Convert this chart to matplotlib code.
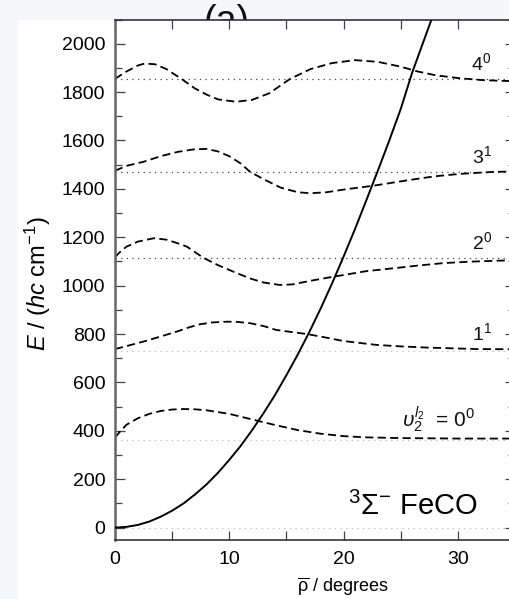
import matplotlib
matplotlib.use("Agg")
import matplotlib.pyplot as plt
from matplotlib.patches import Rectangle
from matplotlib.ticker import MultipleLocator

plt.rcParams['font.family'] = ['Liberation Sans', 'DejaVu Sans']
plt.rcParams['mathtext.fontset'] = 'custom'
plt.rcParams['mathtext.rm'] = 'Liberation Sans'
plt.rcParams['mathtext.it'] = 'Liberation Sans:italic'
plt.rcParams['mathtext.bf'] = 'Liberation Sans:bold'

# ---- data ----
rho_V = [0, 1, 2, 3, 4, 5, 6, 7, 8, 9, 10, 11, 12, 13, 14, 15, 16, 17, 18, 19, 20,
         21, 22, 23, 24, 25, 26, 27, 28]
V = [0, 3, 11, 25, 45, 70, 100, 137, 178, 226, 280, 338, 403, 473, 548, 630, 716,
     808, 906, 1010, 1120, 1234, 1354, 1475, 1600, 1730, 1880, 2010, 2140]

levels = [0, 362, 730, 1116, 1471, 1854]
level_colors = ['#bbbbbb', '#bbbbbb', '#bbbbbb', '#444444', '#444444', '#444444']

rho_0 = [0, 0.5, 1, 2, 3, 4, 5, 6, 7, 8, 10, 12, 14, 16, 18, 20, 22, 25, 30, 35]
dens_0 = [372, 400, 425, 452, 470, 482, 488, 490, 489, 485, 470, 447, 424, 403, 388,
          378, 373, 370, 368, 368]

rho_1 = [0, 1, 2.5, 4, 5.4, 6.5, 7.4, 8.5, 9.8, 10.5, 11.8, 13, 14.1, 15.5, 16.8, 18.5,
         20, 22.9, 25, 27.3, 29.5, 31.6, 35]
dens_1 = [738, 750, 769, 790, 810, 828, 840, 848, 851, 851, 845, 833, 817, 808, 800,
          785, 771, 755, 749, 744, 741, 738, 737]

rho_2 = [0, 0.5, 1, 2, 3.4, 4.5, 5.5, 6.3, 7.7, 9, 10.5, 11.8, 13, 14.4, 15.5, 17.1,
         18.5, 20, 22, 24.4, 26.5, 28.7, 31, 33.4, 35]
dens_2 = [1118, 1142, 1161, 1182, 1196, 1190, 1175, 1161, 1116, 1085, 1055, 1030,
          1013, 1003, 1005, 1020, 1032, 1044, 1060, 1072, 1083, 1093, 1099, 1103, 1105]

rho_3 = [0, 1, 2.5, 4, 5.5, 7, 8, 9, 10, 11, 11.8, 13, 14.5, 16, 17.1, 18.5, 20,
         22.6, 25.8, 28, 30.2, 33, 35]
dens_3 = [1475, 1495, 1512, 1535, 1553, 1564, 1565, 1555, 1535, 1505, 1471, 1440,
          1405, 1386, 1382, 1386, 1397, 1413, 1437, 1452, 1462, 1470, 1472]

rho_4 = [0, 1, 2, 2.6, 3.5, 4.5, 5.8, 7, 8, 9, 10.6, 12, 13.5, 15.3, 17.1, 19, 21,
         23, 25, 26.5, 28, 30, 32, 33.5, 35]
dens_4 = [1855, 1885, 1910, 1918, 1915, 1895, 1855, 1815, 1790, 1770, 1760, 1768,
          1795, 1854, 1895, 1920, 1932, 1925, 1905, 1885, 1870, 1858, 1850, 1847, 1845]

level_labels = [r'$\upsilon_2^{l_2}$  = 0$^0$', r'1$^1$', r'2$^0$', r'3$^1$', r'4$^0$']
label_x = [31.5, 33.0, 33.0, 33.0, 32.9]
label_y = [415, 775, 1151, 1507, 1891]
label_size = [15, 14, 14, 14, 14]

# ---- figure ----
W, H = 510, 599
fig = plt.figure(figsize=(W / 100, H / 100), dpi=100)
fig.patch.set_facecolor('#f6f7fa')

fig.text(227 / W, 1 - 4 / H, '(a)', ha='center', va='top', fontsize=27,
         color='#111111', zorder=-3)
fig.patches.append(Rectangle((18 / W, 0), 1, 1 - 20 / H, transform=fig.transFigure,
                             facecolor='white', edgecolor='none', zorder=-2))

ax = fig.add_axes([115 / W, 1 - 539.7 / H, 400 / W, 520.2 / H])
ax.patch.set_alpha(0)

for lv, c in zip(levels, level_colors):
    ax.axhline(lv, color=c, lw=0.9, linestyle=(0, (1, 3.5)), zorder=1)

dash = (0, (4.5, 2.4))
for r, d in [(rho_0, dens_0), (rho_1, dens_1), (rho_2, dens_2), (rho_3, dens_3),
             (rho_4, dens_4)]:
    ax.plot(r, d, color='black', lw=1.3, linestyle=dash, zorder=2)

ax.plot(rho_V, V, color='black', lw=1.4, zorder=3)

for t, x, y, fs in zip(level_labels, label_x, label_y, label_size):
    ax.text(x, y, t, ha='right', va='baseline', fontsize=fs, color='#111111')

ax.text(31.7, 52, r'$^3\Sigma^{-}$ FeCO', ha='right', va='baseline', fontsize=21,
        color='black')

ax.set_xlim(0, 35)
ax.set_ylim(-50, 2100)
ax.xaxis.set_major_locator(MultipleLocator(10))
ax.xaxis.set_minor_locator(MultipleLocator(5))
ax.yaxis.set_major_locator(MultipleLocator(200))
ax.yaxis.set_minor_locator(MultipleLocator(100))
ax.tick_params(which='both', direction='in', top=True, right=True, width=0.9,
               colors='#444444', labelcolor='black', labelsize=14)
ax.tick_params(axis='y', which='major', length=7.5, pad=7)
ax.tick_params(axis='y', which='minor', length=5)
ax.tick_params(axis='x', which='both', length=6.5, pad=8)
for s in ax.spines.values():
    s.set_color('#333333')
    s.set_linewidth(1.2)
ax.spines['left'].set_color('#666666')
ax.spines['left'].set_linewidth(1.8)

fig.text(343 / W, 1 - 592 / H, r'$\overline{\mathrm{\rho}}$ / degrees', ha='center',
         va='baseline', fontsize=13)
fig.text(38 / W, 1 - 284 / H, r'$E$ / ($hc$ cm$^{\mathrm{-}1}$)', ha='center',
         va='center', rotation=90, fontsize=17)

fig.savefig('out.png', dpi=100, facecolor=fig.get_facecolor())
